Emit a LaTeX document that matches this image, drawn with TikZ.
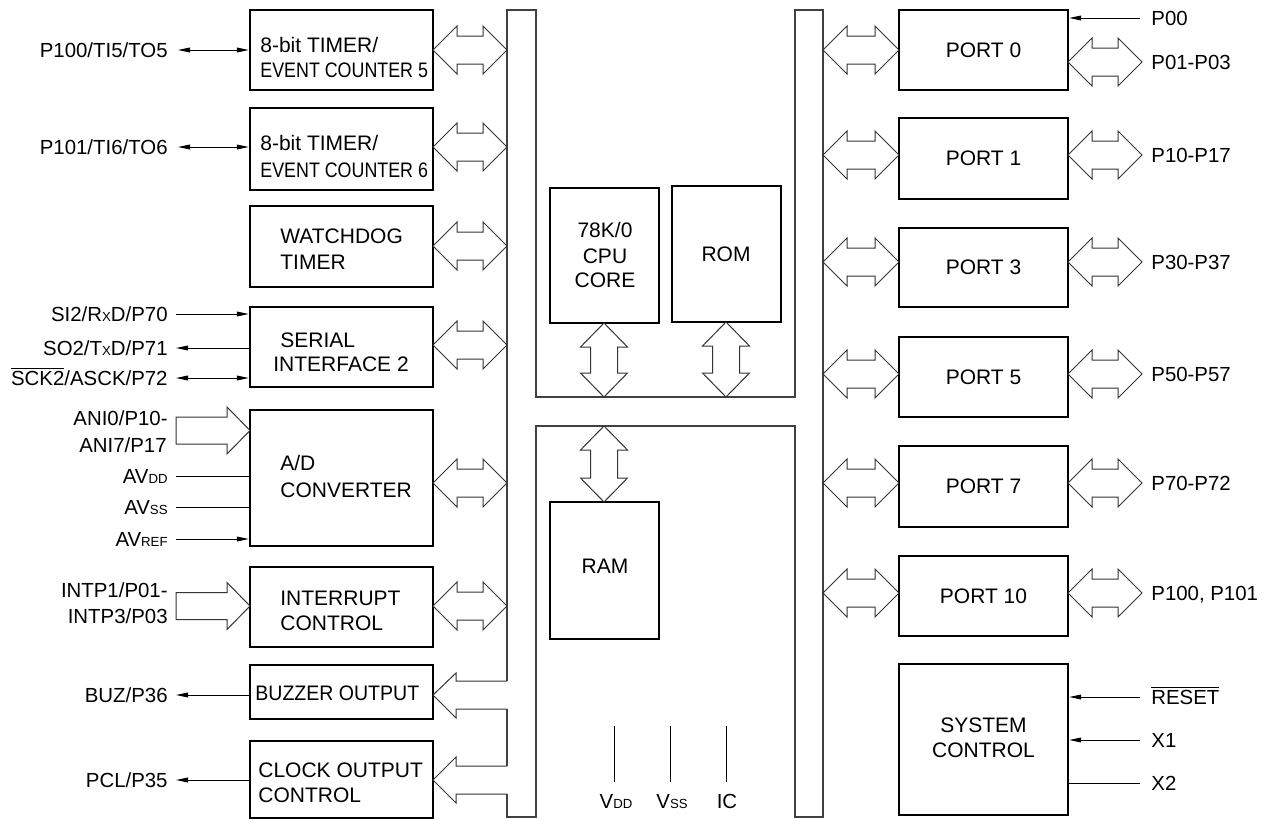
\documentclass[tikz,border=0pt]{standalone}
\usepackage{fontspec}
\setmainfont{Liberation Sans}
\usepackage{graphicx}
\usetikzlibrary{arrows.meta,fit}
\newcommand\sm[1]{{\fontsize{6.6}{7}\selectfont #1}}
\newcommand\ovl[1]{$\overline{\hbox{#1}}$}
% horizontal fat double arrow: tip x1, tip x2, y
\newcommand\hdbl[3]{\draw[fat] (#1,#3) -- (#1+24,#3-24) -- (#1+24,#3-14) -- (#2-24,#3-14) -- (#2-24,#3-24) -- (#2,#3) -- (#2-24,#3+24) -- (#2-24,#3+14) -- (#1+24,#3+14) -- (#1+24,#3+24) -- cycle;}
% vertical fat double arrow: x, tip y1, tip y2
\newcommand\vdbl[3]{\draw[fat] (#1,#2) -- (#1+23.5,#2+24) -- (#1+13.5,#2+24) -- (#1+13.5,#3-24) -- (#1+23.5,#3-24) -- (#1,#3) -- (#1-23.5,#3-24) -- (#1-13.5,#3-24) -- (#1-13.5,#2+24) -- (#1-23.5,#2+24) -- cycle;}
% fat single arrow to the right: tail x, tip x, y
\newcommand\rfat[3]{\draw[fat] (#1,#3-13.5) -- (#2-23,#3-13.5) -- (#2-23,#3-23.5) -- (#2,#3) -- (#2-23,#3+23.5) -- (#2-23,#3+13.5) -- (#1,#3+13.5) -- cycle;}
\begin{document}
\begin{tikzpicture}[x=0.5pt,y=-0.5pt,
  box/.style={draw, line width=1.2pt, inner sep=0pt},
  txt/.style={inner sep=0pt, font=\fontsize{10.5}{12}\selectfont},
  lbl/.style={inner sep=0pt, font=\fontsize{10.2}{12}\selectfont},
  sig/.style={line width=0.5pt},
  arr/.style={sig, -{Triangle[length=6pt,width=2.4pt]}},
  barr/.style={sig, {Triangle[length=6pt,width=2.4pt]}-{Triangle[length=6pt,width=2.4pt]}},
  fat/.style={line width=0.5pt, black!80, fill=white, line join=miter},
  bus/.style={line width=0.6pt, black!75}]
\useasboundingbox (0,0) rectangle (1271,820);

% ---------- buses ----------
\draw[bus] (507,681) -- (507,10) -- (536,10) -- (536,397) -- (795,397) -- (795,10) -- (823,10) -- (823,817) -- (795,817) -- (795,426) -- (536,426) -- (536,817) -- (507,817) -- (507,794);
\draw[bus] (507,709) -- (507,766);

% ---------- left blocks ----------
\node[box, fit={(250,10)(433,90)}] (t5) {};
\node[box, fit={(250,108)(433,190)}] (t6) {};
\node[box, fit={(250,206)(433,287)}] (wd) {};
\node[box, fit={(250,307)(433,387)}] (ser) {};
\node[box, fit={(250,410)(433,546)}] (ad) {};
\node[box, fit={(250,567)(433,647)}] (intc) {};
\node[box, fit={(250,665)(433,719)}] (buz) {};
\node[box, fit={(250,741)(433,818)}] (clk) {};

\node[txt, anchor=base west] (t5a) at (260,52) {8-bit TIMER/};
\node[txt, anchor=base west] (t5b) at (260,77) {\scalebox{0.85}[1]{EVENT COUNTER 5}};
\node[txt, anchor=base west] (t6a) at (260,150) {8-bit TIMER/};
\node[txt, anchor=base west] (t6b) at (260,177) {\scalebox{0.85}[1]{EVENT COUNTER 6}};
\node[txt, anchor=base west] (wda) at (280,243) {WATCHDOG};
\node[txt, anchor=base west] (wdb) at (280,269) {TIMER};
\node[txt, anchor=base west] (sera) at (280,347) {SERIAL};
\node[txt, anchor=base west] (serb) at (273,371) {INTERFACE 2};
\node[txt, anchor=base west] (ada) at (280,470) {A/D};
\node[txt, anchor=base west] (adb) at (280,497) {CONVERTER};
\node[txt, anchor=base west] (inta) at (280,605) {INTERRUPT};
\node[txt, anchor=base west] (intb) at (280,630) {CONTROL};
\node[txt, anchor=base west] (buza) at (255,700) {\scalebox{0.93}[1]{BUZZER OUTPUT}};
\node[txt, anchor=base west] (clka) at (258,777) {CLOCK OUTPUT};
\node[txt, anchor=base west] (clkb) at (258,802) {CONTROL};

% left fat double arrows to bus
\hdbl{433}{507}{50}
\hdbl{433}{507}{147}
\hdbl{433}{507}{246}
\hdbl{433}{507}{345}
\hdbl{433}{507}{483}
\hdbl{433}{507}{606}
% buzzer and clock output arrows from bus
\draw[fat, fill=none] (507,681) -- (456,681) -- (456,673) -- (433,695) -- (456,718) -- (456,709) -- (507,709);
\draw[fat, fill=none] (507,766) -- (456,766) -- (456,757) -- (433,780) -- (456,803) -- (456,794) -- (507,794);

% input fat arrows
\rfat{176}{250}{430.5}
\rfat{176}{250}{606}

% left pin labels
\node[lbl, anchor=base east] (l1) at (168,57.5) {P100/TI5/TO5};
\node[lbl, anchor=base east] (l2) at (168,154.5) {P101/TI6/TO6};
\node[lbl, anchor=base east] (l3) at (168,321.5) {SI2/R\sm{X}D/P70};
\node[lbl, anchor=base east] (l4) at (168,355.5) {SO2/T\sm{X}D/P71};
\node[lbl, anchor=base east] (l5) at (168,385.5) {\ovl{SCK2}/ASCK/P72};
\node[lbl, anchor=base east] (l6) at (168,425) {ANI0/P10-};
\node[lbl, anchor=base east] (l7) at (167,452) {ANI7/P17};
\node[lbl, anchor=base east] (l8) at (168,483) {AV\sm{DD}};
\node[lbl, anchor=base east] (l9) at (168,514.5) {AV\sm{SS}};
\node[lbl, anchor=base east] (l10) at (168,546.5) {AV\sm{REF}};
\node[lbl, anchor=base east] (l11) at (168,597.5) {INTP1/P01-};
\node[lbl, anchor=base east] (l12) at (168,623) {INTP3/P03};
\node[lbl, anchor=base east] (l13) at (168,702.5) {BUZ/P36};
\node[lbl, anchor=base east] (l14) at (168,787.5) {PCL/P35};

% left signal lines
\coordinate (c1) at (178,50);
\coordinate (c2) at (178,147);
\coordinate (c3) at (176,314);
\coordinate (c4) at (176,348);
\coordinate (c5) at (176,378);
\coordinate (c8) at (176,476);
\coordinate (c9) at (176,507);
\coordinate (c10) at (176,539);
\coordinate (c13) at (176,695);
\coordinate (c14) at (176,780);
\draw[barr] (c1) -- (c1 -| t5.west);
\draw[barr] (c2) -- (c2 -| t6.west);
\draw[arr] (c3) -- (c3 -| ser.west);
\draw[arr] (c4 -| ser.west) -- (c4);
\draw[barr] (c5) -- (c5 -| ser.west);
\draw[sig] (c8) -- (c8 -| ad.west);
\draw[sig] (c9) -- (c9 -| ad.west);
\draw[arr] (c10) -- (c10 -| ad.west);
\draw[arr] (c13 -| buz.west) -- (c13);
\draw[arr] (c14 -| clk.west) -- (c14);

% ---------- middle ----------
\node[box, fit={(550,188)(659,323)}] (cpu) {};
\node[box, fit={(672,186)(781,322)}] (rom) {};
\node[box, fit={(550,502)(659,639)}] (ram) {};
\node[txt, anchor=base] (cpua) at (605,237) {78K/0};
\node[txt, anchor=base] (cpub) at (605,263) {CPU};
\node[txt, anchor=base] (cpuc) at (605,287) {CORE};
\node[txt, anchor=base] (roma) at (726,261) {ROM};
\node[txt, anchor=base] (rama) at (605,573) {RAM};
\vdbl{604}{323}{397}
\vdbl{726}{322}{397}
\vdbl{604}{426}{502}

\coordinate (vdd) at (614,726);
\coordinate (vss) at (670,726);
\coordinate (icp) at (726,726);
\draw[sig] (vdd) -- ++(0,56);
\draw[sig] (vss) -- ++(0,56);
\draw[sig] (icp) -- ++(0,56);
\node[lbl, anchor=base] (vddl) at (616,808) {V\sm{DD}};
\node[lbl, anchor=base] (vssl) at (672,808) {V\sm{SS}};
\node[lbl, anchor=base] (icl) at (727,808) {IC};

% ---------- right blocks ----------
\node[box, fit={(899,10)(1068,90)}] (p0) {};
\node[box, fit={(899,118)(1068,199)}] (p1) {};
\node[box, fit={(899,228)(1068,307)}] (p3) {};
\node[box, fit={(899,337)(1068,417)}] (p5) {};
\node[box, fit={(899,446)(1068,527)}] (p7) {};
\node[box, fit={(899,556)(1068,636)}] (p10) {};
\node[box, fit={(899,664)(1068,815)}] (sys) {};
\node[txt] at (p0) {PORT 0};
\node[txt] at (p1) {PORT 1};
\node[txt] at (p3) {PORT 3};
\node[txt] at (p5) {PORT 5};
\node[txt] at (p7) {PORT 7};
\node[txt] at (p10) {PORT 10};
\node[txt, anchor=base] (sysa) at (983.5,732) {SYSTEM};
\node[txt, anchor=base] (sysb) at (983.5,757) {CONTROL};

% bus to ports
\hdbl{823}{899}{50}
\hdbl{823}{899}{155}
\hdbl{823}{899}{262}
\hdbl{823}{899}{374}
\hdbl{823}{899}{483}
\hdbl{823}{899}{593}
% ports to pins
\hdbl{1068}{1142}{62}
\hdbl{1068}{1142}{155}
\hdbl{1068}{1142}{262}
\hdbl{1068}{1142}{374}
\hdbl{1068}{1142}{483}
\hdbl{1068}{1142}{593}

% right labels
\node[lbl, anchor=base west] (r0) at (1151,25.5) {P00};
\node[lbl, anchor=base west] (r1) at (1151,69.5) {P01-P03};
\node[lbl, anchor=base west] (r2) at (1151,162.5) {P10-P17};
\node[lbl, anchor=base west] (r3) at (1151,269.5) {P30-P37};
\node[lbl, anchor=base west] (r4) at (1151,381.5) {P50-P57};
\node[lbl, anchor=base west] (r5) at (1151,490.5) {P70-P72};
\node[lbl, anchor=base west] (r6) at (1151,600.5) {P100, P101};
\node[lbl, anchor=base west] (r7) at (1151,704.5) {\ovl{RESET}};
\node[lbl, anchor=base west] (r8) at (1151,747.5) {X1};
\node[lbl, anchor=base west] (r9) at (1151,790.5) {X2};

\coordinate (d0) at (1140,18);
\coordinate (d7) at (1140,697);
\coordinate (d8) at (1140,740);
\coordinate (d9) at (1140,783);
\draw[arr] (d0) -- (d0 -| p0.east);
\draw[arr] (d7) -- (d7 -| sys.east);
\draw[arr] (d8) -- (d8 -| sys.east);
\draw[sig] (d9) -- (d9 -| sys.east);
\end{tikzpicture}
\end{document}
